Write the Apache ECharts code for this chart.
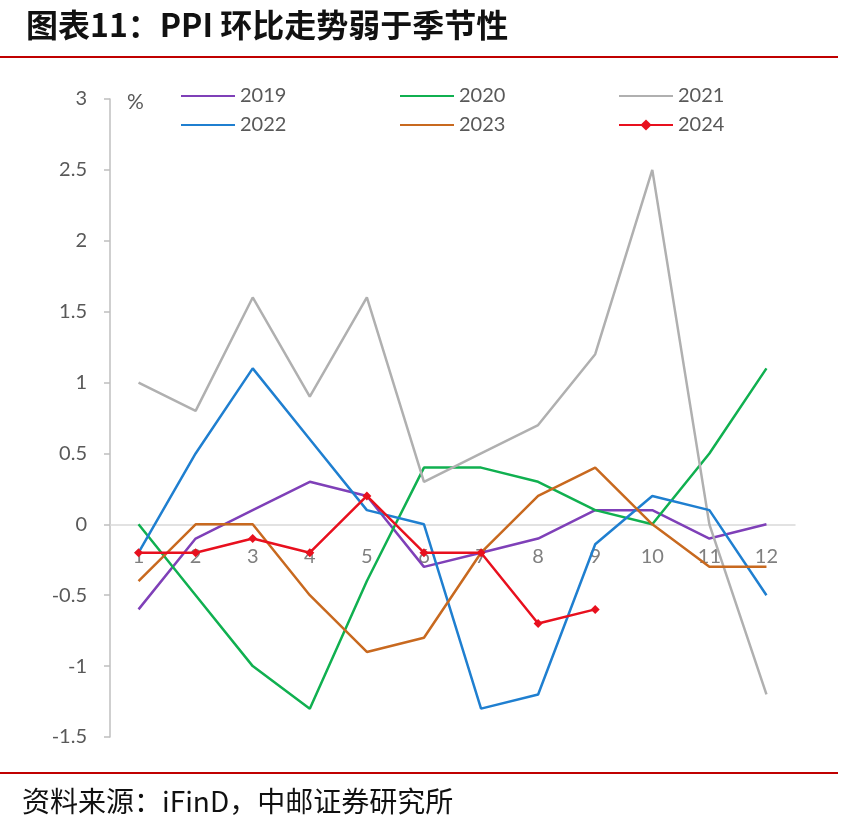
<!DOCTYPE html>
<html>
<head>
<meta charset="utf-8">
<script src="https://cdn.jsdelivr.net/npm/echarts@6/dist/echarts.min.js"></script>
<style>
  html, body { margin: 0; padding: 0; background: #fff; }
  #chart { width: 866px; height: 837px; }
</style>
</head>
<body>
<div id="chart"></div>
<script>
// months on the x axis
const months = ['1', '2', '3', '4', '5', '6', '7', '8', '9', '10', '11', '12'];

// PPI month-on-month, %
const y2019 = [-0.6, -0.1, 0.1, 0.3, 0.2, -0.3, -0.2, -0.1, 0.1, 0.1, -0.1, 0.0];
const y2020 = [0.0, -0.5, -1.0, -1.3, -0.4, 0.4, 0.4, 0.3, 0.1, 0.0, 0.5, 1.1];
const y2021 = [1.0, 0.8, 1.6, 0.9, 1.6, 0.3, 0.5, 0.7, 1.2, 2.5, 0.0, -1.2];
const y2022 = [-0.2, 0.5, 1.1, 0.6, 0.1, 0.0, -1.3, -1.2, -0.14, 0.2, 0.1, -0.5];
const y2023 = [-0.4, 0.0, 0.0, -0.5, -0.9, -0.8, -0.2, 0.2, 0.4, 0.0, -0.3, -0.3];
const y2024 = [-0.2, -0.2, -0.1, -0.2, 0.2, -0.2, -0.2, -0.7, -0.6];

const seriesNames = ['2019', '2020', '2021', '2022', '2023', '2024'];
const seriesColors = ['#7f40b8', '#10b050', '#b0b0b0', '#1f7fd0', '#c8691f', '#e8101e'];

const yMin = -1.5, yMax = 3;
const gridTop = 99, gridBottom = 100, chartH = 837;

const axisFont = 'Lato, "Noto Sans", sans-serif';
const cjkFont = '"Noto Sans CJK SC", sans-serif';

const chart = echarts.init(document.getElementById('chart'));

function lineSeries(i, data) {
  const s = {
    name: seriesNames[i],
    type: 'line',
    data: data,
    symbol: 'none',
    lineStyle: { width: 2.5, color: seriesColors[i] },
    itemStyle: { color: seriesColors[i] },
    z: 2 + i
  };
  if (i === 5) {
    s.symbol = 'diamond';
    s.symbolSize = 9;
  }
  return s;
}

function legendItem(name) {
  // plain line icon for the years drawn without markers
  if (name === '2024') return { name: name };
  return { name: name, itemStyle: { opacity: 0 } };
}

function legendColumn(left, names) {
  return {
    orient: 'vertical',
    left: left,
    top: 86,
    padding: 0,
    itemWidth: 54,
    itemHeight: 14,
    itemGap: 9,
    data: names.map(legendItem),
    textStyle: { fontSize: 20, color: '#595959', fontFamily: axisFont }
  };
}

// the x axis sits on the zero line
const plotH = chartH - gridTop - gridBottom;
const zeroOffset = -plotH * (0 - yMin) / (yMax - yMin);

const option = {
  backgroundColor: '#fff',
  animation: false,
  grid: { left: 110, right: 71, top: gridTop, bottom: gridBottom },
  legend: [
    legendColumn(180, ['2019', '2022']),
    legendColumn(399, ['2020', '2023']),
    legendColumn(618, ['2021', '2024'])
  ],
  xAxis: {
    type: 'category',
    data: months,
    boundaryGap: true,
    offset: zeroOffset,
    axisLine: { onZero: false, lineStyle: { color: '#d9d9d9', width: 1.5 } },
    axisTick: { show: false },
    axisLabel: { fontSize: 20, color: '#7f7f7f', margin: 22, fontFamily: axisFont }
  },
  yAxis: {
    type: 'value',
    min: yMin,
    max: yMax,
    interval: 0.5,
    axisLine: { show: true, lineStyle: { color: '#bfbfbf', width: 1.5 } },
    axisTick: { show: true, length: 6, lineStyle: { color: '#bfbfbf', width: 1.5 } },
    splitLine: { show: false },
    axisLabel: { fontSize: 20, color: '#595959', margin: 23, fontFamily: axisFont }
  },
  series: [
    lineSeries(0, y2019),
    lineSeries(1, y2020),
    lineSeries(2, y2021),
    lineSeries(3, y2022),
    lineSeries(4, y2023),
    lineSeries(5, y2024)
  ],
  graphic: [
    {
      type: 'text', left: 26, top: 9,
      style: { text: '图表11：PPI 环比走势弱于季节性', fontSize: 32, fontWeight: 'bold', fill: '#111', fontFamily: cjkFont }
    },
    {
      type: 'line', shape: { x1: 0, y1: 57, x2: 838, y2: 57 },
      style: { stroke: '#c00000', lineWidth: 2 }
    },
    {
      type: 'text', left: 127, top: 92,
      style: { text: '%', fontSize: 21, fill: '#595959', fontFamily: axisFont }
    },
    {
      type: 'line', shape: { x1: 0, y1: 773, x2: 838, y2: 773 },
      style: { stroke: '#c00000', lineWidth: 2 }
    },
    {
      type: 'text', left: 22, top: 787,
      style: { text: '资料来源：iFinD，中邮证券研究所', fontSize: 28, fill: '#111', fontFamily: cjkFont }
    }
  ]
};

chart.setOption(option);
</script>
</body>
</html>
